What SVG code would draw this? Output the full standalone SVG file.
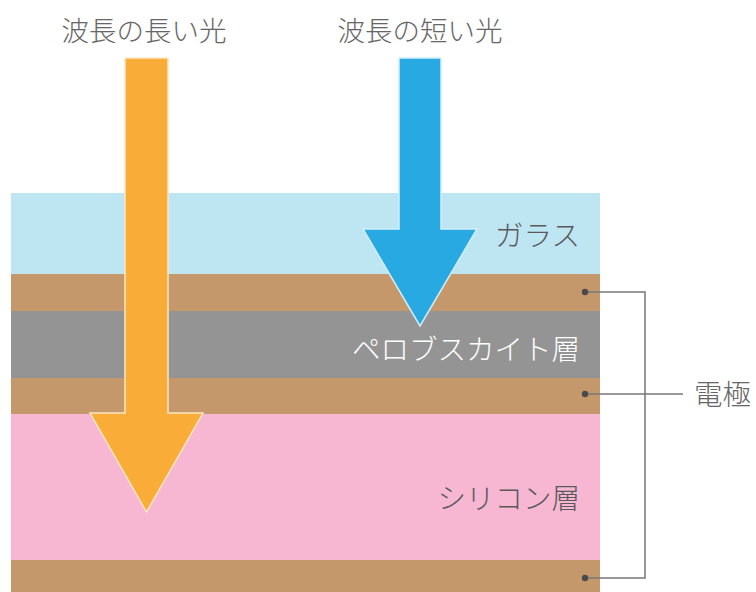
<svg xmlns="http://www.w3.org/2000/svg" width="756" height="592" viewBox="0 0 756 592">
<style>
.lbl{font-family:"Noto Sans CJK JP","Noto Sans",sans-serif;font-weight:300;font-size:28.5px}
.tl{font-size:27.5px}
.dark{fill:#5a5a5a}
.top{fill:#666}
.white{fill:#fff}
.dot{fill:#4a4a4a}
.ln{stroke:#777;stroke-width:1.5;fill:none}
</style>
<rect width="756" height="592" fill="#fff"/>
<g id="glass"><rect x="11" y="193" width="589" height="81" fill="#BEE5F2"/></g>
<g id="electrode1"><rect x="11" y="274" width="589" height="37" fill="#C4986A"/></g>
<g id="perovskite"><rect x="11" y="311" width="589" height="67" fill="#949494"/></g>
<g id="electrode2"><rect x="11" y="378" width="589" height="36" fill="#C4986A"/></g>
<g id="silicon"><rect x="11" y="414" width="589" height="146" fill="#F7B7D3"/></g>
<g id="electrode3"><rect x="11" y="560" width="589" height="32" fill="#C4986A"/></g>
<g id="connectors">
<polyline class="ln" points="585,292 645,292 645,578 585,578"/>
<line class="ln" x1="585" y1="394" x2="683" y2="394"/>
<circle class="dot" cx="585" cy="292" r="3.2"/>
<circle class="dot" cx="585" cy="394" r="3.2"/>
<circle class="dot" cx="585" cy="578" r="3.2"/>
</g>
<g id="long-arrow"><polygon points="125,58 168,58 168,413 203,413 146.5,512 90,413 125,413" fill="#F9AD38" stroke="#FCE6C2" stroke-width="1.5"/></g>
<g id="short-arrow"><polygon points="399,58 441,58 441,229 477,229 420,326 363,229 399,229" fill="#29A9E1" stroke="#D3EEF9" stroke-width="1.5"/></g>
<g id="labels">
<text class="lbl tl top" x="144" y="41" text-anchor="middle">波長の長い光</text>
<text class="lbl tl top" x="420" y="41" text-anchor="middle">波長の短い光</text>
<text class="lbl dark" x="580" y="246" text-anchor="end">ガラス</text>
<text class="lbl white" x="580" y="360" text-anchor="end">ペロブスカイト層</text>
<text class="lbl dark" x="580" y="509" text-anchor="end">シリコン層</text>
<text class="lbl top" x="694" y="405">電極</text>
</g>
</svg>
